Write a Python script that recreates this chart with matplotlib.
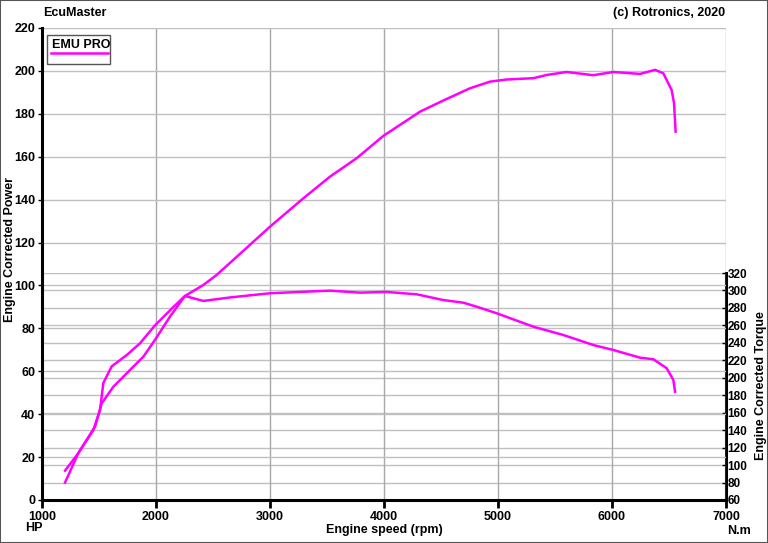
import matplotlib
matplotlib.use("Agg")
import matplotlib.pyplot as plt
from matplotlib.patches import Rectangle
from matplotlib.lines import Line2D

plt.rcParams['font.family'] = ['Liberation Sans', 'DejaVu Sans']

# --- data read from the dyno sheet ---
rpm_power = [1202, 1318, 1465, 1523, 1626, 1772, 1889, 1991, 2123, 2254, 2415, 2532,
             2678, 3000, 3292, 3526, 3760, 3994, 4316, 4520, 4754, 4930, 5076, 5310,
             5427, 5602, 5836, 6012, 6246, 6377, 6450, 6523, 6544, 6558]
power_hp = [8.1, 21.8, 34.2, 45.0, 52.8, 60.6, 66.8, 74.6, 85.5, 95.1, 100.2, 104.9,
            111.9, 127.4, 140.6, 150.7, 159.3, 169.7, 181.0, 186.2, 191.9, 195.0, 196.0, 196.6,
            198.1, 199.5, 198.0, 199.5, 198.6, 200.5, 198.9, 191.1, 185.0, 171.7]

rpm_torque = [1202, 1318, 1450, 1509, 1538, 1611, 1743, 1860, 1991, 2152, 2254, 2415,
              2649, 3000, 3526, 3789, 4023, 4287, 4520, 4696, 4813, 4988, 5310, 5573,
              5836, 6012, 6246, 6363, 6480, 6538, 6553]
torque_nm = [93.6, 113.5, 140, 163, 194, 213, 226, 239.5, 260, 281, 293.7, 288,
             292, 296.8, 299.8, 297.5, 298.3, 295.6, 289, 286, 281.4, 273.9, 258.5, 249,
             237.5, 231.8, 223, 221.2, 210.9, 197.5, 184]

rpm_ticks = [1000, 2000, 3000, 4000, 5000, 6000, 7000]
hp_ticks = list(range(0, 221, 20))
nm_ticks = list(range(60, 321, 20))

W, H = 768, 543
fig = plt.figure(figsize=(W / 100, H / 100), dpi=100)
fig.patch.set_facecolor('white')

def fx(px):
    return px / W

def fy(py):
    return 1 - py / H

left, right, top, bottom = 42, 726, 28, 500
torque_top = 273
rect = [fx(left), fy(bottom), fx(right - left), (bottom - top) / H]
rect2 = [fx(left), fy(bottom), fx(right - left), (bottom - torque_top) / H]

# torque axis (below), holds only its grid/ticks
ax2 = fig.add_axes(rect2, zorder=1)
ax2.patch.set_visible(False)
ax2.set_xlim(1000, 7000)
ax2.set_ylim(60, 320)
ax2.set_yticks(nm_ticks)
ax2.set_xticks([])
ax2.yaxis.tick_right()
for s in ['left', 'top', 'bottom']:
    ax2.spines[s].set_visible(False)
ax2.spines['right'].set_linewidth(2.2)
ax2.tick_params(axis='y', direction='in', length=3, width=1, pad=1, labelsize=8.5)
for lab in ax2.get_yticklabels():
    lab.set_fontweight('bold')
ax2.yaxis.grid(True, color='#c0c0c0', linewidth=1)

# power axis (on top)
ax = fig.add_axes(rect, zorder=2)
ax.patch.set_visible(False)
ax.set_xlim(1000, 7000)
ax.set_ylim(0, 220)
ax.set_xticks(rpm_ticks)
ax.set_yticks(hp_ticks)
for s in ['top', 'right']:
    ax.spines[s].set_visible(False)
ax.spines['left'].set_linewidth(2.2)
ax.spines['bottom'].set_linewidth(2.2)
ax.tick_params(axis='x', direction='out', length=6, width=2, pad=2, labelsize=9)
ax.tick_params(axis='y', direction='out', length=3, width=1, pad=2, labelsize=9)
for lab in ax.get_xticklabels() + ax.get_yticklabels():
    lab.set_fontweight('bold')
ax.xaxis.grid(True, color='#a8a8a8', linewidth=1)
ax.yaxis.grid(True, color='#c0c0c0', linewidth=1)
ax.set_axisbelow(True)

mag = '#ff00ff'
ax.plot(rpm_power, power_hp, color=mag, linewidth=1.8, zorder=3)
ax.plot(rpm_torque, torque_nm, color=mag, linewidth=1.8, zorder=3,
        transform=ax2.transData)

# texts
bold = dict(fontweight='bold', fontsize=9)
fig.text(fx(43), fy(13), 'EcuMaster', ha='left', va='center', **bold)
fig.text(fx(725), fy(13), '(c) Rotronics, 2020', ha='right', va='center', **bold)
fig.text(fx(25), fy(528), 'HP', ha='left', va='center', **bold)
fig.text(fx(384), fy(530), 'Engine speed (rpm)', ha='center', va='center', **bold)
fig.text(fx(739), fy(531), 'N.m', ha='center', va='center', **bold)
fig.text(fx(10), fy(250), 'Engine Corrected Power', rotation=90,
         ha='center', va='center', **bold)
fig.text(fx(761), fy(386), 'Engine Corrected Torque', rotation=90,
         ha='center', va='center', **bold)

# legend box
fig.add_artist(Rectangle((fx(47), fy(64)), fx(63), 29 / H, transform=fig.transFigure,
                         facecolor='white', edgecolor='#555555', linewidth=1, zorder=5))
fig.text(fx(52), fy(45), 'EMU PRO', ha='left', va='center', zorder=6, **bold)
fig.add_artist(Line2D([fx(51), fx(108)], [fy(53), fy(53)], transform=fig.transFigure,
                      color=mag, linewidth=1.8, zorder=6))

# outer frame
fig.add_artist(Rectangle((0, 0), 1, 1, transform=fig.transFigure, fill=False,
                         edgecolor='#555555', linewidth=1.5))

fig.savefig('out.png', dpi=100)
